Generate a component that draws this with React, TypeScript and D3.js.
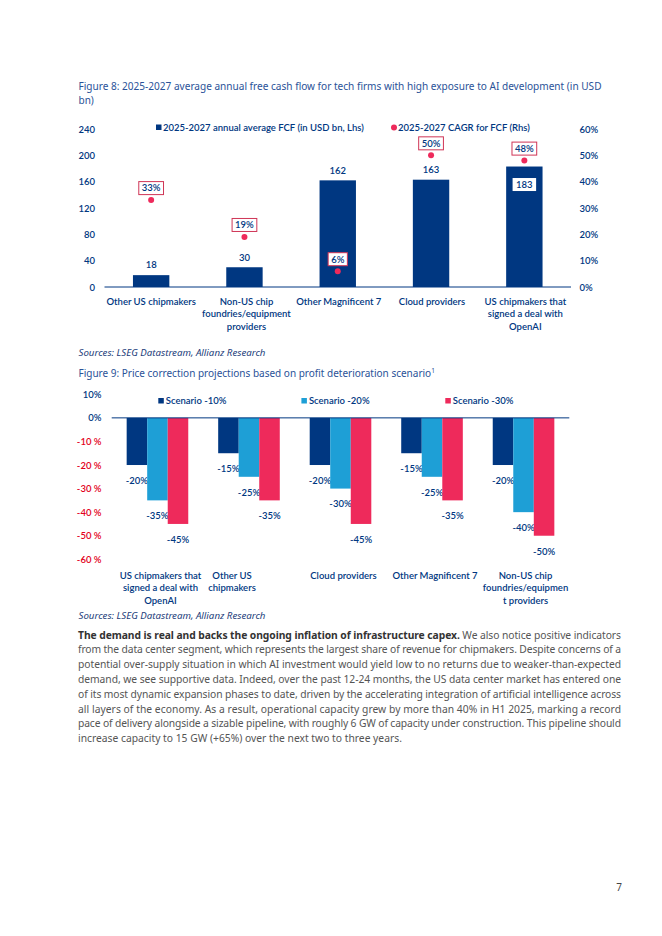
import React, { useRef, useEffect } from "react";
import * as d3 from "d3";

// Figure 8 data
const fcfCategories = [
    "Other US chipmakers",
    "Non-US chip\nfoundries/equipment\nproviders",
    "Other Magnificent 7",
    "Cloud providers",
    "US chipmakers that\nsigned a deal with\nOpenAI",
];
const fcfValues = [18, 30, 162, 163, 183];
const cagrValues = [33, 19, 6, 50, 48];
const fcfTicks = [0, 40, 80, 120, 160, 200, 240];
const cagrTicks = [0, 10, 20, 30, 40, 50, 60];
const fcfLegend = ["2025-2027 annual average FCF (in USD bn, Lhs)", "2025-2027 CAGR for FCF (Rhs)"];

// Figure 9 data
const scenarioCategories = [
    "US chipmakers that\nsigned a deal with\nOpenAI",
    "Other US\nchipmakers",
    "Cloud providers",
    "Other Magnificent 7",
    "Non-US chip\nfoundries/equipmen\nt providers",
];
const scenarioNames = ["Scenario -10%", "Scenario -20%", "Scenario -30%"];
const scenario10 = [-20, -15, -20, -15, -20];
const scenario20 = [-35, -25, -30, -25, -40];
const scenario30 = [-45, -35, -45, -35, -50];
const scenarioTicks = [10, 0, -10, -20, -30, -40, -50, -60];

const bodyBold = "The demand is real and backs the ongoing inflation of infrastructure capex.";
const bodyLines = [
    " We also notice positive indicators",
    "from the data center segment, which represents the largest share of revenue for chipmakers. Despite concerns of a",
    "potential over-supply situation in which AI investment would yield low to no returns due to weaker-than-expected",
    "demand, we see supportive data. Indeed, over the past 12-24 months, the US data center market has entered one",
    "of its most dynamic expansion phases to date, driven by the accelerating integration of artificial intelligence across",
    "all layers of the economy. As a result, operational capacity grew by more than 40% in H1 2025, marking a record",
    "pace of delivery alongside a sizable pipeline, with roughly 6 GW of capacity under construction. This pipeline should",
    "increase capacity to 15 GW (+65%) over the next two to three years.",
];

const NAVY = "#003781";
const SKY = "#1e9fd6";
const PINK = "#ee2a5b";
const CRIMSON = "#cf3556";
const RED = "#e2001a";
const CHART_FONT = "Lato, sans-serif";
const CHART_WEIGHT = "600";
const TEXT_FONT = "'Noto Sans', sans-serif";

const App = () => {
    const svgRef = useRef<SVGSVGElement>(null);

    useEffect(() => {
        if (!svgRef.current) return;
        const svg = d3.select(svgRef.current);
        svg.selectAll("*").remove();

        const caption = (txt: string, y: number, len?: number) => {
            const t = svg.append("text")
                .attr("x", 78.5)
                .attr("y", y)
                .style("font-family", TEXT_FONT)
                .style("font-size", "10px")
                .style("fill", "#2a5298")
                .text(txt);
            if (len) t.attr("textLength", len).attr("lengthAdjust", "spacingAndGlyphs");
            return t;
        };
        const sources = (y: number) =>
            svg.append("text")
                .attr("x", 78.5)
                .attr("y", y)
                .attr("textLength", 187)
                .attr("lengthAdjust", "spacingAndGlyphs")
                .style("font-family", TEXT_FONT)
                .style("font-size", "9.5px")
                .style("font-style", "italic")
                .style("fill", "#1c3d7a")
                .text("Sources: LSEG Datastream, Allianz Research");

        // ---------- Figure 8 ----------
        caption("Figure 8: 2025-2027 average annual free cash flow for tech firms with high exposure to AI development (in USD", 89.5, 523);
        caption("bn)", 103.5);

        const x1 = d3.scaleBand().domain(fcfCategories).range([104.5, 571]).paddingInner(0.61).paddingOuter(0.305);
        const yL = d3.scaleLinear().domain([0, 240]).range([287, 129]);
        const yR = d3.scaleLinear().domain([0, 60]).range([287, 129]);

        const styleAxis = (g: any, color: string) => {
            g.select(".domain").remove();
            g.selectAll("text")
                .style("font-family", CHART_FONT)
                .style("font-size", "9.5px")
                .style("font-weight", CHART_WEIGHT)
                .style("fill", color);
        };

        svg.append("g")
            .attr("transform", "translate(95,0)")
            .call(d3.axisLeft(yL).tickValues(fcfTicks).tickSize(0).tickPadding(0))
            .call((g: any) => styleAxis(g, NAVY));
        svg.append("g")
            .attr("transform", "translate(579.5,0)")
            .call(d3.axisRight(yR).tickValues(cagrTicks).tickSize(0).tickPadding(0).tickFormat((d: any) => d + "%"))
            .call((g: any) => styleAxis(g, NAVY));

        svg.append("line")
            .attr("x1", 104.5).attr("x2", 571)
            .attr("y1", yL(0)).attr("y2", yL(0))
            .attr("stroke", NAVY).attr("stroke-width", 1);

        const fcfData = fcfCategories.map((c, i) => ({ c, v: fcfValues[i], g: cagrValues[i] }));

        svg.selectAll(".fcf-bar")
            .data(fcfData)
            .enter()
            .append("rect")
            .attr("class", "fcf-bar")
            .attr("x", (d) => x1(d.c)!)
            .attr("y", (d) => yL(d.v))
            .attr("width", x1.bandwidth())
            .attr("height", (d) => yL(0) - yL(d.v))
            .attr("fill", NAVY);

        fcfData.forEach((d) => {
            const cx = x1(d.c)! + x1.bandwidth() / 2;
            const top = yL(d.v);
            const dotY = yR(d.g);
            const inside = dotY < top && top - dotY < 15;

            // value label, moved into the bar when the CAGR box sits on top of it
            if (inside) {
                const t = svg.append("text")
                    .attr("x", cx).attr("y", top + 18).attr("dy", "0.35em")
                    .attr("text-anchor", "middle")
                    .style("font-family", CHART_FONT).style("font-size", "9.5px").style("font-weight", CHART_WEIGHT)
                    .style("fill", NAVY)
                    .text(d.v);
                const w = (t.node() as SVGTextElement).getComputedTextLength();
                svg.insert("rect", () => t.node())
                    .attr("x", cx - w / 2 - 3.5).attr("y", top + 11.5)
                    .attr("width", w + 7).attr("height", 13)
                    .attr("fill", "#fff");
            } else {
                svg.append("text")
                    .attr("x", cx).attr("y", top - 10).attr("dy", "0.35em")
                    .attr("text-anchor", "middle")
                    .style("font-family", CHART_FONT).style("font-size", "9.5px").style("font-weight", CHART_WEIGHT)
                    .style("fill", NAVY)
                    .text(d.v);
            }

            // CAGR dot + boxed label
            svg.append("circle").attr("cx", cx).attr("cy", dotY).attr("r", 3).attr("fill", PINK);
            const lbl = svg.append("text")
                .attr("x", cx).attr("y", dotY - 12).attr("dy", "0.35em")
                .attr("text-anchor", "middle")
                .style("font-family", CHART_FONT).style("font-size", "9.5px").style("font-weight", CHART_WEIGHT)
                .style("fill", NAVY)
                .text(d.g + "%");
            const lw = (lbl.node() as SVGTextElement).getComputedTextLength();
            svg.insert("rect", () => lbl.node())
                .attr("x", cx - lw / 2 - 3).attr("y", dotY - 18.5)
                .attr("width", lw + 6).attr("height", 13)
                .attr("fill", "#fff").attr("stroke", CRIMSON).attr("stroke-width", 1);
        });

        const catLabels = (scale: any, cats: string[], y0: number, step: number, nudge: number[]) => {
            cats.forEach((c, i) => {
                const t = svg.append("text")
                    .attr("text-anchor", "middle")
                    .style("font-family", CHART_FONT).style("font-size", "9.5px").style("font-weight", CHART_WEIGHT)
                    .style("fill", NAVY);
                c.split("\n").forEach((line, j) => {
                    t.append("tspan")
                        .attr("x", scale(c) + scale.bandwidth() / 2 + nudge[i])
                        .attr("y", y0 + j * step)
                        .attr("dy", "0.35em")
                        .text(line);
                });
            });
        };
        catLabels(x1, fcfCategories, 301.5, 12.5, [0, 2, 1, 1, 1]);

        // legend figure 8
        svg.append("rect").attr("x", 156).attr("y", 124.5).attr("width", 5.5).attr("height", 5.5).attr("fill", NAVY);
        svg.append("text").attr("x", 163).attr("y", 127.5).attr("dy", "0.35em")
            .style("font-family", CHART_FONT).style("font-size", "9.5px").style("font-weight", CHART_WEIGHT).style("fill", NAVY)
            .text(fcfLegend[0]);
        svg.append("circle").attr("cx", 394).attr("cy", 127.5).attr("r", 3).attr("fill", PINK);
        svg.append("text").attr("x", 398).attr("y", 127.5).attr("dy", "0.35em")
            .style("font-family", CHART_FONT).style("font-size", "9.5px").style("font-weight", CHART_WEIGHT).style("fill", NAVY)
            .text(fcfLegend[1]);

        sources(355.5);

        // ---------- Figure 9 ----------
        const cap9 = caption("Figure 9: Price correction projections based on profit deterioration scenario", 377.3);
        cap9.append("tspan").attr("dy", -4).style("font-size", "6.5px").text("1");

        const x2 = d3.scaleBand().domain(scenarioCategories).range([111.7, 569.3]).paddingInner(0.327).paddingOuter(0.1635);
        const xs = d3.scaleBand().domain(scenarioNames).range([0, x2.bandwidth()]);
        const y2 = d3.scaleLinear().domain([-60, 10]).range([559.3, 394.3]);
        const scenarioColor = d3.scaleOrdinal<string>().domain(scenarioNames).range([NAVY, SKY, PINK]);

        const ax2 = svg.append("g")
            .attr("transform", "translate(101.5,0)")
            .call(d3.axisLeft(y2).tickValues(scenarioTicks).tickSize(0).tickPadding(0)
                .tickFormat((d: any) => (d < 0 ? `${d} %` : `${d}%`)));
        styleAxis(ax2, NAVY);
        ax2.selectAll("text").style("fill", (d: any) => (d < 0 ? RED : NAVY));

        const scenarioData = scenarioCategories.flatMap((c, i) => [
            { c, s: scenarioNames[0], v: scenario10[i] },
            { c, s: scenarioNames[1], v: scenario20[i] },
            { c, s: scenarioNames[2], v: scenario30[i] },
        ]);

        // labels first so the bars sit on top of them
        svg.selectAll(".sc-label")
            .data(scenarioData)
            .enter()
            .append("text")
            .attr("class", "sc-label")
            .attr("x", (d) => x2(d.c)! + xs(d.s)! + xs.bandwidth() / 2)
            .attr("y", (d) => y2(d.v) + 15.5)
            .attr("dy", "0.35em")
            .attr("text-anchor", "middle")
            .style("font-family", CHART_FONT).style("font-size", "9.5px").style("font-weight", CHART_WEIGHT)
            .style("fill", NAVY)
            .text((d) => `${d.v}%`);

        svg.selectAll(".sc-bar")
            .data(scenarioData)
            .enter()
            .append("rect")
            .attr("class", "sc-bar")
            .attr("x", (d) => x2(d.c)! + xs(d.s)!)
            .attr("y", y2(0))
            .attr("width", xs.bandwidth())
            .attr("height", (d) => y2(d.v) - y2(0))
            .attr("fill", (d) => scenarioColor(d.s));

        svg.append("line")
            .attr("x1", 111.7).attr("x2", 569.3)
            .attr("y1", y2(0)).attr("y2", y2(0))
            .attr("stroke", NAVY).attr("stroke-width", 1);

        catLabels(x2, scenarioCategories, 575.4, 12.7, [3, -17, 3, 3, 2]);

        const legendX = [158.3, 301.4, 445.3];
        scenarioNames.forEach((s, i) => {
            svg.append("rect").attr("x", legendX[i]).attr("y", 398).attr("width", 5.5).attr("height", 5.5).attr("fill", scenarioColor(s));
            svg.append("text").attr("x", legendX[i] + 7.5).attr("y", 400.8).attr("dy", "0.35em")
                .style("font-family", CHART_FONT).style("font-size", "9.5px").style("font-weight", CHART_WEIGHT).style("fill", NAVY)
                .text(s);
        });

        sources(618.7);

        // ---------- body text ----------
        bodyLines.forEach((line, i) => {
            const t = svg.append("text")
                .attr("x", 78)
                .attr("y", 638.5 + i * 14.8)
                .style("font-family", TEXT_FONT)
                .style("font-size", "10.3px")
                .style("fill", "#555");
            if (i === 0) {
                t.append("tspan").style("font-weight", "bold").style("fill", "#333").text(bodyBold);
            }
            t.append("tspan").text(line);
            if (i < bodyLines.length - 1) t.attr("textLength", 543).attr("lengthAdjust", "spacing");
        });

        svg.append("text")
            .attr("x", 619).attr("y", 887).attr("dy", "0.35em")
            .attr("text-anchor", "middle")
            .style("font-family", TEXT_FONT).style("font-size", "10px").style("fill", "#444")
            .text("7");
    }, []);

    return (
        <svg
            ref={svgRef}
            width={662}
            height={936}
            style={{ position: "absolute", left: 0, top: 0, background: "#fff" }}
        />
    );
};

export default App;
